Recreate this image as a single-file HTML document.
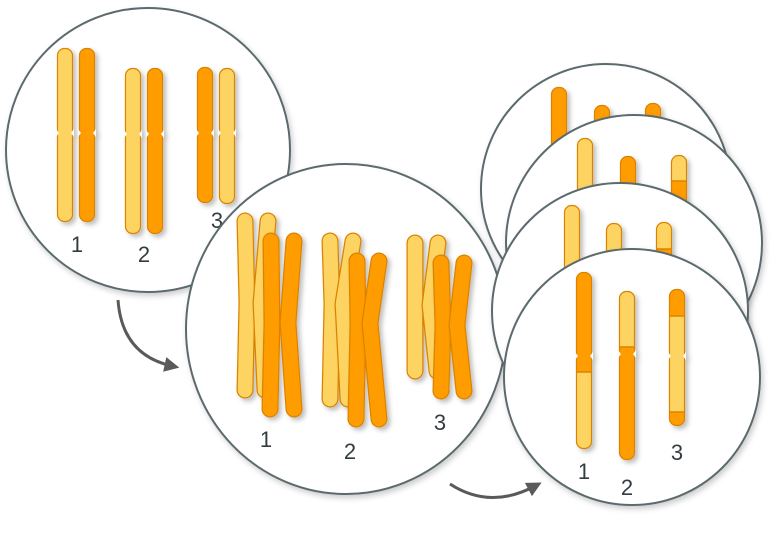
<!DOCTYPE html>
<html><head><meta charset="utf-8"><style>
html,body{margin:0;padding:0;background:#fff;}
svg{display:block;font-family:"Liberation Sans",sans-serif;}
</style></head><body>
<svg id="s" width="784" height="544" viewBox="0 0 784 544" xmlns="http://www.w3.org/2000/svg">
<defs>
<filter id="sh" filterUnits="userSpaceOnUse" x="0" y="0" width="784" height="544"><feDropShadow dx="3" dy="3" stdDeviation="2.5" flood-color="#000" flood-opacity="0.25"/></filter>
<filter id="csh" filterUnits="userSpaceOnUse" x="0" y="0" width="784" height="544"><feDropShadow dx="2" dy="3" stdDeviation="3" flood-color="#000" flood-opacity="0.2"/></filter>
<marker id="ah" viewBox="0 0 10 10" refX="5" refY="5" markerWidth="5" markerHeight="5" orient="auto"><path d="M0,0 L10,5 L0,10 z" fill="#5a5a5a"/></marker>
</defs>
<g id="root"></g>
<path d="M118,300 Q122,355 172,366" fill="none" stroke="#5a5a5a" stroke-width="3" marker-end="url(#ah)"/>
<path d="M450,484 Q490,510 535,486" fill="none" stroke="#5a5a5a" stroke-width="3" marker-end="url(#ah)"/>
</svg>
<script>
const NS="http://www.w3.org/2000/svg";
const root=document.getElementById('root');
const L="#FDD462",D="#FF9C00",O="#DB8300";
let cid=0;
function mk(t,a,p){const e=document.createElementNS(NS,t);for(const k in a)e.setAttribute(k,a[k]);(p||root).appendChild(e);return e;}
function circle(cx,cy,rx,ry,name){
 const e=mk('ellipse',{cx,cy,rx,ry,fill:'#fff',stroke:'#5b6b6e','stroke-width':2,filter:'url(#csh)'});
 
 
}
function chrom(x,t,b,c,base,bands,name){
 const g=mk('g',{filter:'url(#sh)'});
 
 
 const id='c'+(cid++);
 const cp=mk('clipPath',{id},g);
 mk('rect',{x:x-8,y:t,width:16,height:b-t,rx:7.5},cp);
 const inner=mk('g',{'clip-path':'url(#'+id+')'},g);
 mk('rect',{x:x-8,y:t,width:16,height:b-t,fill:base},inner);
 (bands||[]).forEach(bd=>{
  mk('rect',{x:x-8,y:bd[0],width:16,height:bd[1]-bd[0],fill:bd[2]},inner);
  if(bd[0]>t+1)mk('line',{x1:x-8,x2:x+8,y1:bd[0],y2:bd[0],stroke:O,'stroke-width':1.5},inner);
  if(bd[1]<b-1)mk('line',{x1:x-8,x2:x+8,y1:bd[1],y2:bd[1],stroke:O,'stroke-width':1.5},inner);
 });
 mk('rect',{x:x-7.5,y:t+0.5,width:15,height:b-t-1,rx:7,fill:'none',stroke:O,'stroke-width':1.2},g);
 if(c){mk('path',{d:`M${x-9},${c-4} L${x-6},${c} L${x-9},${c+4}Z`,fill:'#fff'},g);
  mk('path',{d:`M${x+9},${c-4} L${x+6},${c} L${x+9},${c+4}Z`,fill:'#fff'},g);}
}
function bent(p,col,name){
 const g=mk('g',{filter:'url(#sh)'});
 
 
 const d=`M${p[0]},${p[1]} L${p[2]},${p[3]} L${p[4]},${p[5]}`;
 mk('path',{d,fill:'none',stroke:O,'stroke-width':17,'stroke-linecap':'round','stroke-linejoin':'round'},g);
 mk('path',{d,fill:'none',stroke:col,'stroke-width':14.5,'stroke-linecap':'round','stroke-linejoin':'round'},g);
}
function label(x,y,t,name){
 const e=mk('text',{x,y,'font-size':22,fill:'#333d40','text-anchor':'middle'});
 e.textContent=t;
 
 
}
circle(148,150,142,142,'circle-homologs');
chrom(65,48,222,133,L,[], 'chr1-light');chrom(87,48,222,133,D,[],'chr1-dark');
chrom(133,68,234,134,L,[], 'chr2-light');chrom(155,68,234,134,D,[],'chr2-dark');
chrom(205,67,203,133,D,[], 'chr3-dark');chrom(227,68,204,133,L,[],'chr3-light');
label(77,252,'1','label-1a');label(144,262,'2','label-2a');label(217,228,'3','label-3a');
circle(346,329,160,165,'circle-replicated');
const chromatids=[
 [245,221,247,303,245,390,L],[268,221,261,303,265,390,L],[271,241,272,323,270,409,D],[294,241,288,323,294,409,D],
 [330,241,332,304,330,399,L],[353,241,343,304,348,399,L],[357,261,358,323,356,419,D],[379,261,370,323,379,419,D],
 [415,243,415,305,415,371,L],[438,243,430,305,437,371,L],[441,263,443,325,441,391,D],[464,263,457,325,464,391,D]];
chromatids.forEach((c,i)=>bent(c,c[6],'chromatid-'+(i+1)));
label(266,447,'1','label-1b');label(350,459,'2','label-2b');label(440,430,'3','label-3b');
circle(606,189,125,125,'gamete-circle-1');
chrom(559,87,180,0,D,[],'g1-chr1');chrom(602,105,180,0,D,[],'g1-chr2');chrom(653,103,180,0,D,[],'g1-chr3');
circle(634,243,128,128,'gamete-circle-2');
chrom(585,138,230,0,L,[],'g2-chr1');chrom(628,156,230,0,D,[],'g2-chr2');chrom(679,155,230,0,L,[[181,240,D]],'g2-chr3');
circle(620,311,128,128,'gamete-circle-3');
chrom(572,205,300,0,L,[],'g3-chr1');chrom(614,223,300,0,L,[],'g3-chr2');chrom(664,222,300,0,L,[[249,300,D]],'g3-chr3');
circle(632,377,128,128,'gamete-circle-4');
chrom(584,272,449,356,D,[[372,449,L]],'g4-chr1');
chrom(627,291,460,354,D,[[291,347,L]],'g4-chr2');
chrom(677,289,426,356,L,[[289,316,D],[412,426,D]],'g4-chr3');
label(584,479,'1','label-1c');label(627,495,'2','label-2c');label(677,460,'3','label-3c');
</script>
</body></html>
